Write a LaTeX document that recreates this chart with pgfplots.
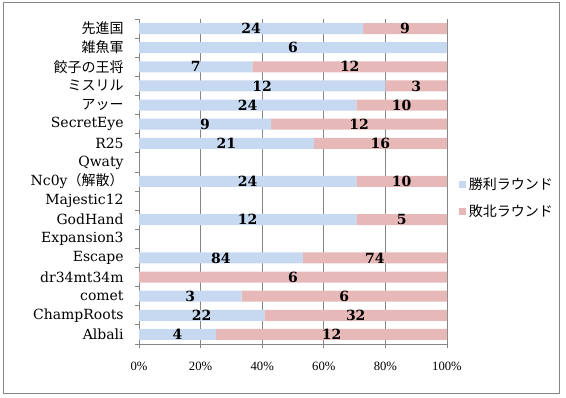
\documentclass[border=0pt]{standalone}
\usepackage{fontspec}
\setmainfont{DejaVu Serif}
\newfontfamily\cjk{Noto Sans CJK JP}
\newfontfamily\tickfont{Liberation Serif}
\usepackage{pgfplots}
\usepackage{pgfplotstable}
\pgfplotsset{compat=1.18}
\definecolor{winc}{RGB}{198,217,241}
\definecolor{lossc}{RGB}{230,185,184}
\definecolor{gridc}{RGB}{134,134,134}

\pgfplotstableread{
idx w l
0 24 9
1 6 0
2 7 12
3 12 3
4 24 10
5 9 12
6 21 16
7 0 0
8 24 10
9 0 0
10 12 5
11 0 0
12 84 74
13 0 6
14 3 6
15 22 32
16 4 12
}\data

\pgfplotsset{
  common/.style={
    scale only axis, width=231pt, height=243.75pt,
    xmin=0, xmax=100, ymin=-0.5, ymax=16.5, y dir=reverse,
    at={(104.25pt,40.5pt)}, anchor=south west,
  }
}

\begin{document}
\begin{tikzpicture}
\path (0,0) rectangle (424.5pt,298.5pt);
\draw[gridc, line width=0.75pt] (2.25pt,3pt) rectangle (419.25pt,296.25pt);
\begin{axis}[common, xbar stacked, bar width=8.25pt,
  axis x line*=bottom, axis y line*=left,
  x axis line style={gridc,-}, y axis line style={gridc,-},
  xtick={0,20,...,100}, xticklabels={0\%,20\%,40\%,60\%,80\%,100\%},
  xticklabel style={font=\tickfont\fontsize{9.5}{11}\selectfont, yshift=-7pt},
  xmajorgrids, grid style={gridc, line width=0.6pt},
  ytick={0,...,16},
  yticklabels={{\cjk 先進国},{\cjk 雑魚軍},{\cjk 餃子の王将},{\cjk ミスリル},{\cjk アッー},SecretEye,R25,Qwaty,{Nc0y{\cjk （解散）}},Majestic12,GodHand,Expansion3,Escape,dr34mt34m,comet,ChampRoots,Albali},
  yticklabel style={font=\fontsize{10.5}{12}\selectfont, xshift=-5pt},
  major y tick style={draw=none},
  minor ytick={-0.5,0.5,...,16.5},
  tick align=outside, major tick length=3pt, minor tick length=3pt,
  tick style={gridc, line width=0.6pt},
  legend style={at={(1,0.45)}, anchor=west, xshift=9pt, draw=none, fill=none,
    font=\cjk\fontsize{10.5}{12}\selectfont, row sep=6pt, inner sep=0pt},
  legend cell align=left,
  legend image code/.code={\fill[#1] (0pt,-2.6pt) rectangle (5.2pt,2.6pt);},
]
\addplot[fill=winc, draw=none] table[y=idx, x expr={100*\thisrow{w}/max(\thisrow{w}+\thisrow{l},1)}]{\data};
\addplot[fill=lossc, draw=none] table[y=idx, x expr={100*\thisrow{l}/max(\thisrow{w}+\thisrow{l},1)}]{\data};
\legend{勝利ラウンド,敗北ラウンド}
\end{axis}
\begin{axis}[common, hide axis,
  /pgf/number format/assume math mode=true,
  nodes near coords={\pgfmathfloatifflags{\pgfplotspointmeta}{0}{}{\pgfmathprintnumber{\pgfplotspointmeta}}},
  every node near coord/.append style={anchor=center, text=black, font=\bfseries\fontsize{10.5}{12}\selectfont}]
\addplot[only marks, mark=none, point meta=explicit] table[x expr={50*\thisrow{w}/max(\thisrow{w}+\thisrow{l},1)}, y=idx, meta=w]{\data};
\addplot[only marks, mark=none, point meta=explicit] table[x expr={100*(\thisrow{w}+0.5*\thisrow{l})/max(\thisrow{w}+\thisrow{l},1)}, y=idx, meta=l]{\data};
\end{axis}
\end{tikzpicture}
\end{document}
